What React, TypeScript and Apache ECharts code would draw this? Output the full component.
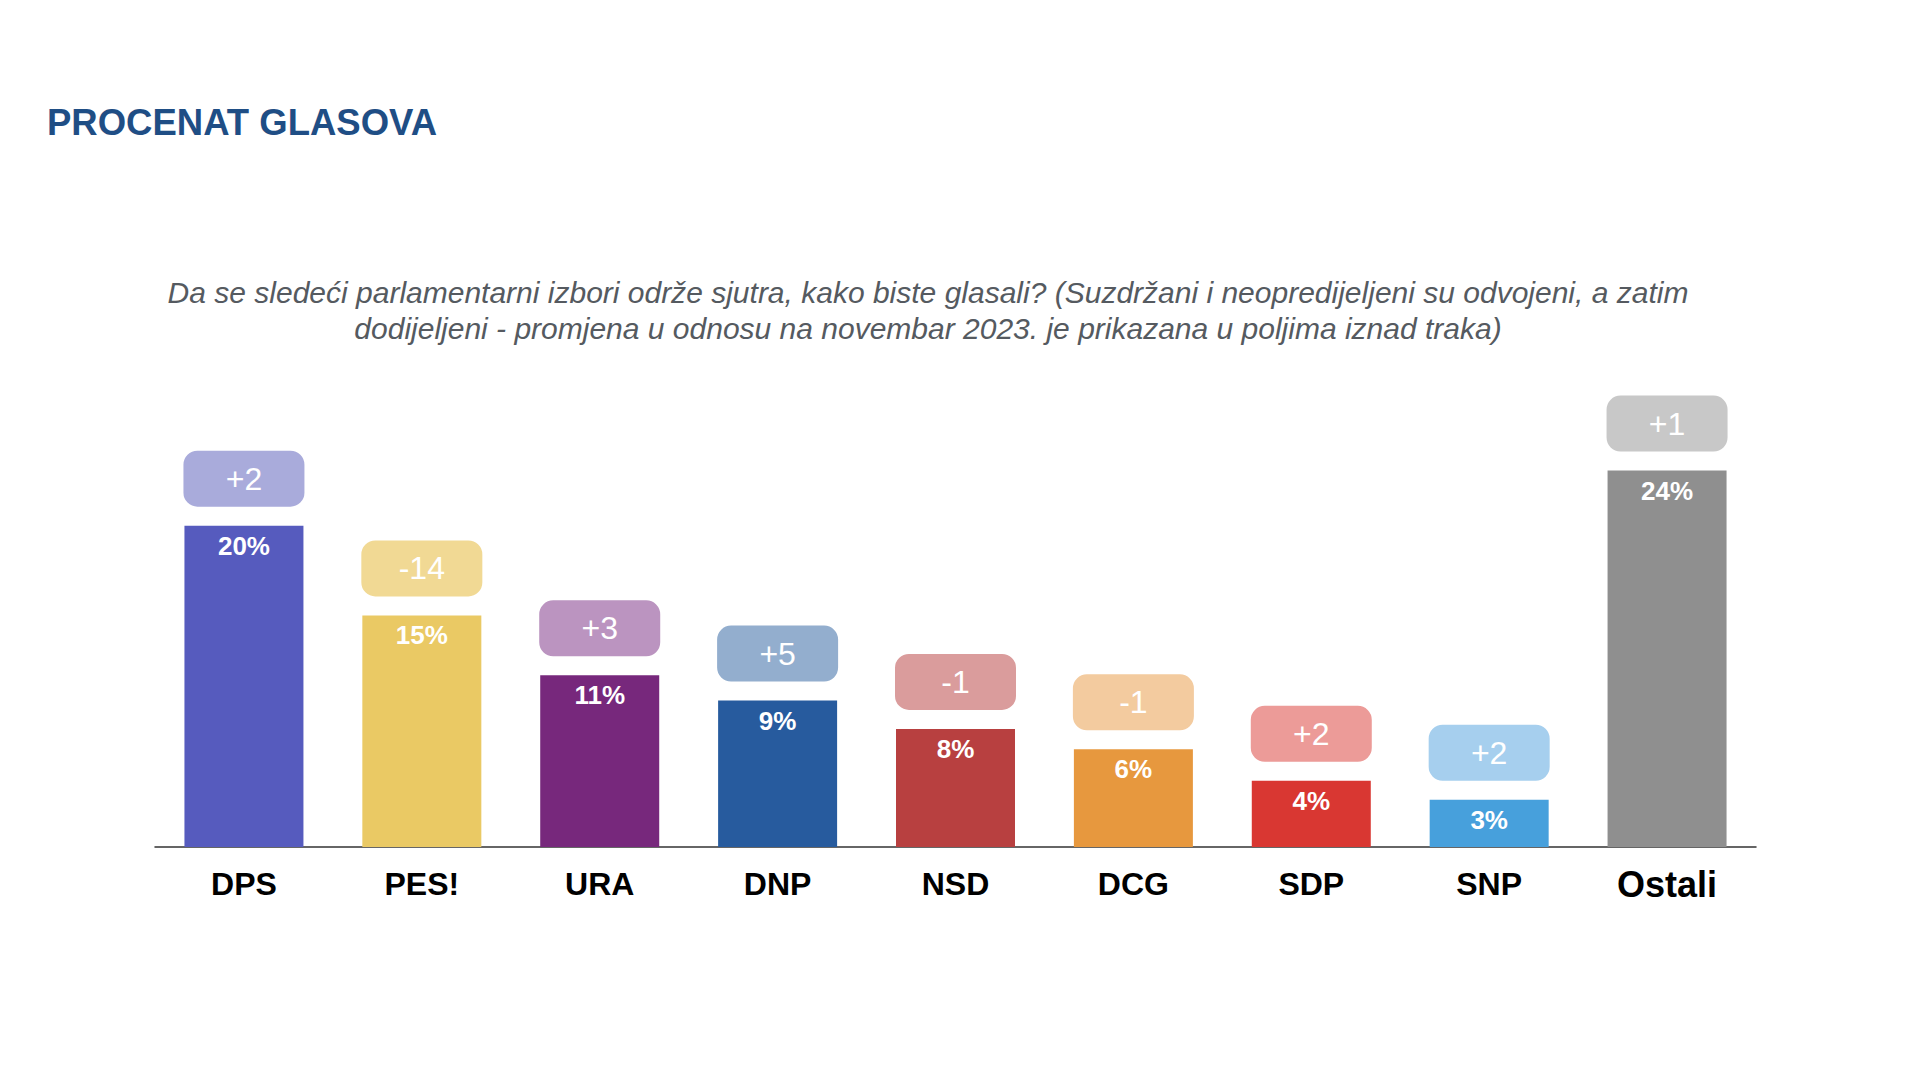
import React, { useEffect, useRef } from "react";
import * as echarts from "echarts";

const categories = ["DPS", "PES!", "URA", "DNP", "NSD", "DCG", "SDP", "SNP", "Ostali"];
const shares = [20.4, 14.7, 10.9, 9.3, 7.5, 6.2, 4.2, 3.0, 23.9];
const changes = [2, -14, 3, 5, -1, -1, 2, 2, 1];
const barColors = ["#565BBE", "#EAC964", "#77287C", "#275B9E", "#B84040", "#E7983E", "#D93732", "#47A0DC", "#8F8F8F"];
const boxColors = ["#A9ABDB", "#F1D994", "#BB94C0", "#93AECE", "#DA9C9C", "#F3CB9F", "#EC9B98", "#A6CFEE", "#C8C8C8"];

const titleText = "PROCENAT GLASOVA";
const subtitleText =
  "Da se sledeći parlamentarni izbori održe sjutra, kako biste glasali? (Suzdržani i neopredijeljeni su odvojeni, a zatim\ndodijeljeni - promjena u odnosu na novembar 2023. je prikazana u poljima iznad traka)";

const FONT = "'Liberation Sans', Arial, sans-serif";

export default function App() {
  const ref = useRef<HTMLDivElement>(null);
  useEffect(() => {
    if (!ref.current) return;
    const chart = echarts.init(ref.current, undefined, { renderer: "svg" });
    chart.setOption({
      animation: false,
      backgroundColor: "#ffffff",
      textStyle: { fontFamily: FONT },
      title: {
        text: titleText,
        left: 47,
        top: 104,
        padding: 0,
        textStyle: { color: "#1F4E85", fontSize: 36.5, fontWeight: "bold", fontFamily: FONT },
      },
      graphic: [
        {
          type: "text",
          x: 928,
          y: 310,
          style: {
            text: subtitleText,
            textAlign: "center",
            textVerticalAlign: "middle",
            fill: "#555A60",
            font: `italic 30px ${FONT}`,
            lineHeight: 36,
          },
        },
      ],
      grid: { left: 155, right: 162, bottom: 232, top: 374.5, containLabel: false },
      xAxis: {
        type: "category",
        data: categories.map((c, i) =>
          i === categories.length - 1
            ? { value: c, textStyle: { fontSize: 36 } }
            : { value: c }
        ),
        axisLine: { show: true, lineStyle: { color: "#333333", width: 1.5 } },
        axisTick: { show: false },
        axisLabel: {
          color: "#000000",
          fontWeight: "bold",
          fontSize: 32,
          fontFamily: FONT,
          margin: 19,
          lineHeight: 36,
          interval: 0,
        },
      },
      yAxis: {
        type: "value",
        min: 0,
        max: 30,
        show: false,
        splitLine: { show: false },
      },
      series: [
        {
          type: "bar",
          barWidth: 119,
          barGap: "-100%",
          data: shares.map((v, i) => ({ value: v, itemStyle: { color: barColors[i] } })),
          label: {
            show: true,
            position: "insideTop",
            distance: 7,
            color: "#ffffff",
            fontWeight: "bold",
            fontSize: 26,
            fontFamily: FONT,
            formatter: (p: any) => `${Math.round(p.value)}%`,
          },
          z: 2,
        },
        {
          type: "bar",
          barWidth: 119,
          barGap: "-100%",
          data: shares.map((v, i) => ({
            value: v,
            itemStyle: { color: "rgba(0,0,0,0)" },
            label: { backgroundColor: boxColors[i] },
          })),
          label: {
            show: true,
            position: "top",
            distance: 19,
            color: "#ffffff",
            fontSize: 32,
            fontFamily: FONT,
            width: 121,
            height: 56,
            lineHeight: 56,
            align: "center",
            borderRadius: 14,
            padding: 0,
            formatter: (p: any) => {
              const c = changes[p.dataIndex];
              return c > 0 ? `+${c}` : `${c}`;
            },
          },
          z: 3,
        },
      ],
    });
    return () => chart.dispose();
  }, []);
  return (
    <div
      ref={ref}
      style={{ position: "absolute", left: 0, top: 0, width: 1918, height: 1079 }}
    />
  );
}
